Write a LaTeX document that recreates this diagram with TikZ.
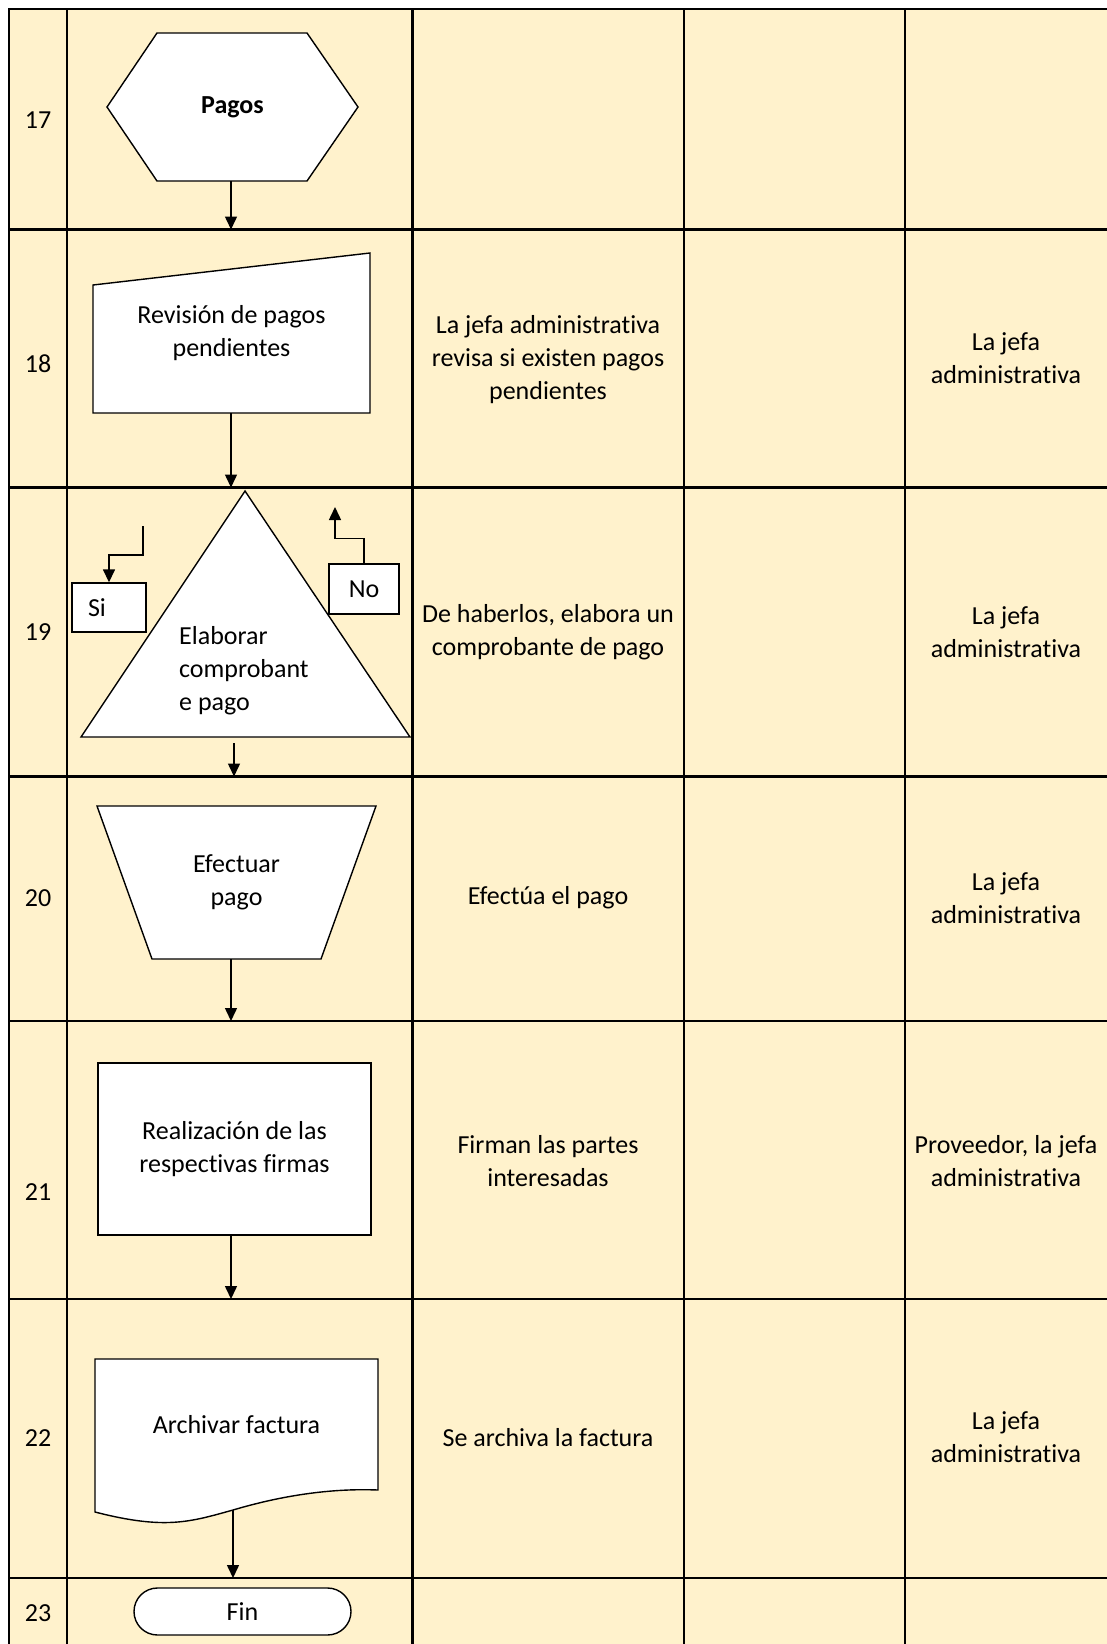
\documentclass[tikz,border=0pt]{standalone}
\usepackage{fontspec}
\setmainfont{Carlito}[Ligatures=NoCommon]
\usepackage{tikz}
\usetikzlibrary{arrows.meta}
\definecolor{celda}{RGB}{255,242,204}
\definecolor{linea}{RGB}{0,0,0}
\newcommand{\letra}{\fontsize{26}{33}\selectfont}
\tikzset{
  rejilla/.style={line width=2.7pt, color=linea, line cap=rect},
  forma/.style={draw=linea, fill=white, line width=1.4pt},
  paso/.style={align=center, font=\letra, inner sep=0pt},
  texto/.style={align=center, font=\letra},
  caja/.style={rectangle, draw=linea, fill=white, line width=1.4pt,
    font=\letra, inner sep=0pt, align=center},
  flecha/.style={-{Triangle[length=13pt, width=12pt]}, line width=1.5pt, color=linea}
}

\begin{document}
\begin{tikzpicture}[x=1pt, y=-1pt,
  num/.style={font=\letra}
]
\useasboundingbox (0,0) rectangle (1107,1644);

% fondo y rejilla de la tabla
\fill[celda] (9,9) rectangle (1107,1644);
\foreach \n/\y in {17/9, 18/229.5, 19/487.5, 20/776.5, 21/1021, 22/1299, 23/1578}{
  \draw[rejilla] (9,\y) -- (1107,\y);
  \coordinate (fila\n) at (9,\y);
}
\foreach \x in {9, 67, 412.5, 684, 905}
  \draw[rejilla] (\x,9) -- (\x,1644);
\coordinate (eje) at (231,0);

% numero de cada paso
\foreach \n/\y in {17/120, 18/364, 19/632, 20/898, 21/1192, 22/1438, 23/1613}
  \node[num] (num\n) at (38,\y) {\n};

% 17: inicio
\filldraw[forma] (107,107) -- (157,33) -- (307,33) -- (358,107) -- (307,181) -- (157,181) -- cycle;
\node[paso, minimum width=251pt, minimum height=148pt] (pagos) at (232.5,107) {\textbf{Pagos}};
\draw[flecha] (pagos.south -| eje) -- (fila18 -| eje);

% 18: entrada manual
\filldraw[forma] (93,285) -- (370,253) -- (370,413) -- (93,413) -- cycle;
\node[paso, minimum width=277pt, minimum height=160pt] (revision) at (231.5,333) {Revisión de pagos\\pendientes};
\draw[flecha] (revision.south -| eje) -- (fila19 -| eje);

% 19: triangulo con sus salidas Si / No
\filldraw[forma] (245,491) -- (410,737) -- (81,737) -- cycle;
\node[paso, anchor=west, align=left] (comprobante) at (179,671) {Elaborar\\comprobant\\e pago};
\coordinate (comprobante-pie) at (234,743);
\draw[flecha] (comprobante-pie) -- (comprobante-pie |- fila20);

\node[caja, minimum width=74pt, minimum height=49pt, text width=42pt, inner xsep=16pt, align=left] (si) at (109,607.5) {Si};
\coordinate (si-inicio) at (143,526);
\draw[flecha] (si-inicio) -- ++(0,29) -| (si.north);

\node[caja, minimum width=70pt, minimum height=50pt] (no) at (364,589) {No};
\coordinate (no-fin) at (335,507);
\draw[flecha] (no.north) -- ++(0,-25) -| (no-fin);

% 20: trapecio
\filldraw[forma] (97,806) -- (376,806) -- (321,959) -- (152,959) -- cycle;
\node[paso, minimum width=279pt, minimum height=153pt] (pago) at (236.5,882.5) {Efectuar\\pago};
\draw[flecha] (pago.south -| eje) -- (fila21 -| eje);

% 21: proceso
\node[caja, minimum width=273pt, minimum height=172pt] (firmas) at (234.5,1149) {Realización de las\\respectivas firmas};
\draw[flecha] (firmas.south -| eje) -- (fila22 -| eje);

% 22: documento
\filldraw[forma] (95,1359) -- (378,1359) -- (378,1490)
  .. controls (330,1488) and (280,1496) .. (233,1510) coordinate (archivo-pie)
  .. controls (190,1522) and (165,1530) .. (95,1512) -- cycle;
\node[paso, minimum width=283pt, minimum height=131pt] (archivo) at (236.5,1424.5) {Archivar factura};
\draw[flecha] (archivo-pie) -- (archivo-pie |- fila23);

% 23: fin
\node[caja, rounded corners=23.5pt, minimum width=217pt, minimum height=47pt] (fin) at (242.5,1611.5) {Fin};

% descripcion
\node[texto] (desc18) at (548,360) {La jefa administrativa\\revisa si existen pagos\\pendientes};
\node[texto] (desc19) at (548,632) {De haberlos, elabora un\\comprobante de pago};
\node[texto] (desc20) at (548,898) {Efectúa el pago};
\node[texto] (desc21) at (548,1161) {Firman las partes\\interesadas};
\node[texto] (desc22) at (548,1438) {Se archiva la factura};

% responsable
\node[texto] (resp18) at (1006,358.5) {La jefa\\administrativa};
\node[texto] (resp19) at (1006,632) {La jefa\\administrativa};
\node[texto] (resp20) at (1006,898.5) {La jefa\\administrativa};
\node[texto] (resp21) at (1006,1161) {Proveedor, la jefa\\administrativa};
\node[texto] (resp22) at (1006,1437) {La jefa\\administrativa};
\end{tikzpicture}
\end{document}
